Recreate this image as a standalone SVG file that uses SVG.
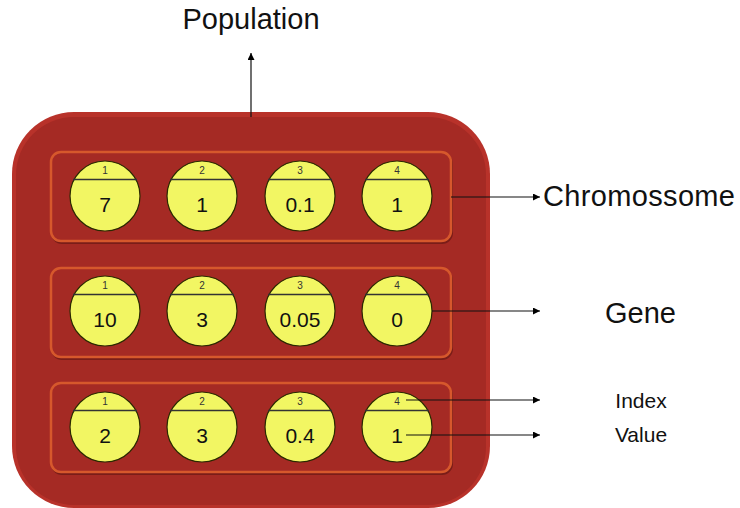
<svg xmlns="http://www.w3.org/2000/svg" width="740" height="508" viewBox="0 0 740 508">
<defs>
<marker id="ah" viewBox="0 0 10 10" refX="10" refY="5" markerWidth="7" markerHeight="7" orient="auto" markerUnits="userSpaceOnUse"><path d="M0,0 L10,5 L0,10 z" fill="#000"/></marker>
</defs>
<style>
.row{fill:#a52a24;stroke:#d6582c;stroke-width:2.5}
.rowsh{fill:none;stroke:#7a1d18;stroke-width:2}
.gene{fill:#f2f663;stroke:#2a2a00;stroke-width:1.2}
.chord{stroke:#333;stroke-width:1.3}
.idx{font-family:"Liberation Sans",Arial,sans-serif;font-size:10px;fill:#333;text-anchor:middle}
.val{font-family:"Liberation Sans",Arial,sans-serif;font-size:21px;fill:#111;text-anchor:middle}
.lbl{font-family:"Liberation Sans",Arial,sans-serif;fill:#111}
.conn{stroke:#111;stroke-width:1.2;fill:none;marker-end:url(#ah)}
</style>
<g id="population">
<rect x="12" y="112" width="478" height="396" rx="62" fill="#b8322a"/>
<rect x="16" y="117" width="470" height="388" rx="58" fill="#a52a24"/>
</g>
<g id="chromosome1">
<rect class="rowsh" x="52" y="154" width="400" height="89" rx="10"/>
<rect class="row" x="51" y="152" width="400" height="89" rx="10"/>
</g>
<g id="chromosome2">
<rect class="rowsh" x="52" y="270" width="400" height="89" rx="10"/>
<rect class="row" x="51" y="268" width="400" height="89" rx="10"/>
</g>
<g id="chromosome3">
<rect class="rowsh" x="52" y="385" width="400" height="89" rx="10"/>
<rect class="row" x="51" y="383" width="400" height="89" rx="10"/>
</g>
<g id="r1g1"><circle class="gene" cx="105" cy="196" r="35"/><line class="chord" x1="73" y1="179.5" x2="137" y2="179.5"/><text class="idx" x="105" y="174">1</text><text class="val" x="105" y="212">7</text></g>
<g id="r1g2"><circle class="gene" cx="202" cy="196" r="35"/><line class="chord" x1="170" y1="179.5" x2="234" y2="179.5"/><text class="idx" x="202" y="174">2</text><text class="val" x="202" y="212">1</text></g>
<g id="r1g3"><circle class="gene" cx="300" cy="196" r="35"/><line class="chord" x1="268" y1="179.5" x2="332" y2="179.5"/><text class="idx" x="300" y="174">3</text><text class="val" x="300" y="212">0.1</text></g>
<g id="r1g4"><circle class="gene" cx="397" cy="196" r="35"/><line class="chord" x1="365" y1="179.5" x2="429" y2="179.5"/><text class="idx" x="397" y="174">4</text><text class="val" x="397" y="212">1</text></g>
<g id="r2g1"><circle class="gene" cx="105" cy="311" r="35"/><line class="chord" x1="73" y1="294.5" x2="137" y2="294.5"/><text class="idx" x="105" y="289">1</text><text class="val" x="105" y="327">10</text></g>
<g id="r2g2"><circle class="gene" cx="202" cy="311" r="35"/><line class="chord" x1="170" y1="294.5" x2="234" y2="294.5"/><text class="idx" x="202" y="289">2</text><text class="val" x="202" y="327">3</text></g>
<g id="r2g3"><circle class="gene" cx="300" cy="311" r="35"/><line class="chord" x1="268" y1="294.5" x2="332" y2="294.5"/><text class="idx" x="300" y="289">3</text><text class="val" x="300" y="327">0.05</text></g>
<g id="r2g4"><circle class="gene" cx="397" cy="311" r="35"/><line class="chord" x1="365" y1="294.5" x2="429" y2="294.5"/><text class="idx" x="397" y="289">4</text><text class="val" x="397" y="327">0</text></g>
<g id="r3g1"><circle class="gene" cx="105" cy="427" r="35"/><line class="chord" x1="73" y1="410.5" x2="137" y2="410.5"/><text class="idx" x="105" y="405">1</text><text class="val" x="105" y="443">2</text></g>
<g id="r3g2"><circle class="gene" cx="202" cy="427" r="35"/><line class="chord" x1="170" y1="410.5" x2="234" y2="410.5"/><text class="idx" x="202" y="405">2</text><text class="val" x="202" y="443">3</text></g>
<g id="r3g3"><circle class="gene" cx="300" cy="427" r="35"/><line class="chord" x1="268" y1="410.5" x2="332" y2="410.5"/><text class="idx" x="300" y="405">3</text><text class="val" x="300" y="443">0.4</text></g>
<g id="r3g4"><circle class="gene" cx="397" cy="427" r="35"/><line class="chord" x1="365" y1="410.5" x2="429" y2="410.5"/><text class="idx" x="397" y="405">4</text><text class="val" x="397" y="443">1</text></g>
<g id="connectors">
<line class="conn" x1="251" y1="117" x2="251" y2="53"/>
<line class="conn" x1="451" y1="197" x2="540" y2="197"/>
<line class="conn" x1="432" y1="311" x2="540" y2="311"/>
<line class="conn" x1="406" y1="400" x2="540" y2="400"/>
<line class="conn" x1="406" y1="435" x2="540" y2="435"/>
</g>
<g id="labels">
<text class="lbl" x="251" y="29" font-size="29" text-anchor="middle">Population</text>
<text class="lbl" x="543" y="206" font-size="29" textLength="192">Chromossome</text>
<text class="lbl" x="640.5" y="322.5" font-size="29" text-anchor="middle">Gene</text>
<text class="lbl" x="641" y="408" font-size="21" text-anchor="middle">Index</text>
<text class="lbl" x="641" y="441.5" font-size="21" text-anchor="middle">Value</text>
</g>
</svg>
